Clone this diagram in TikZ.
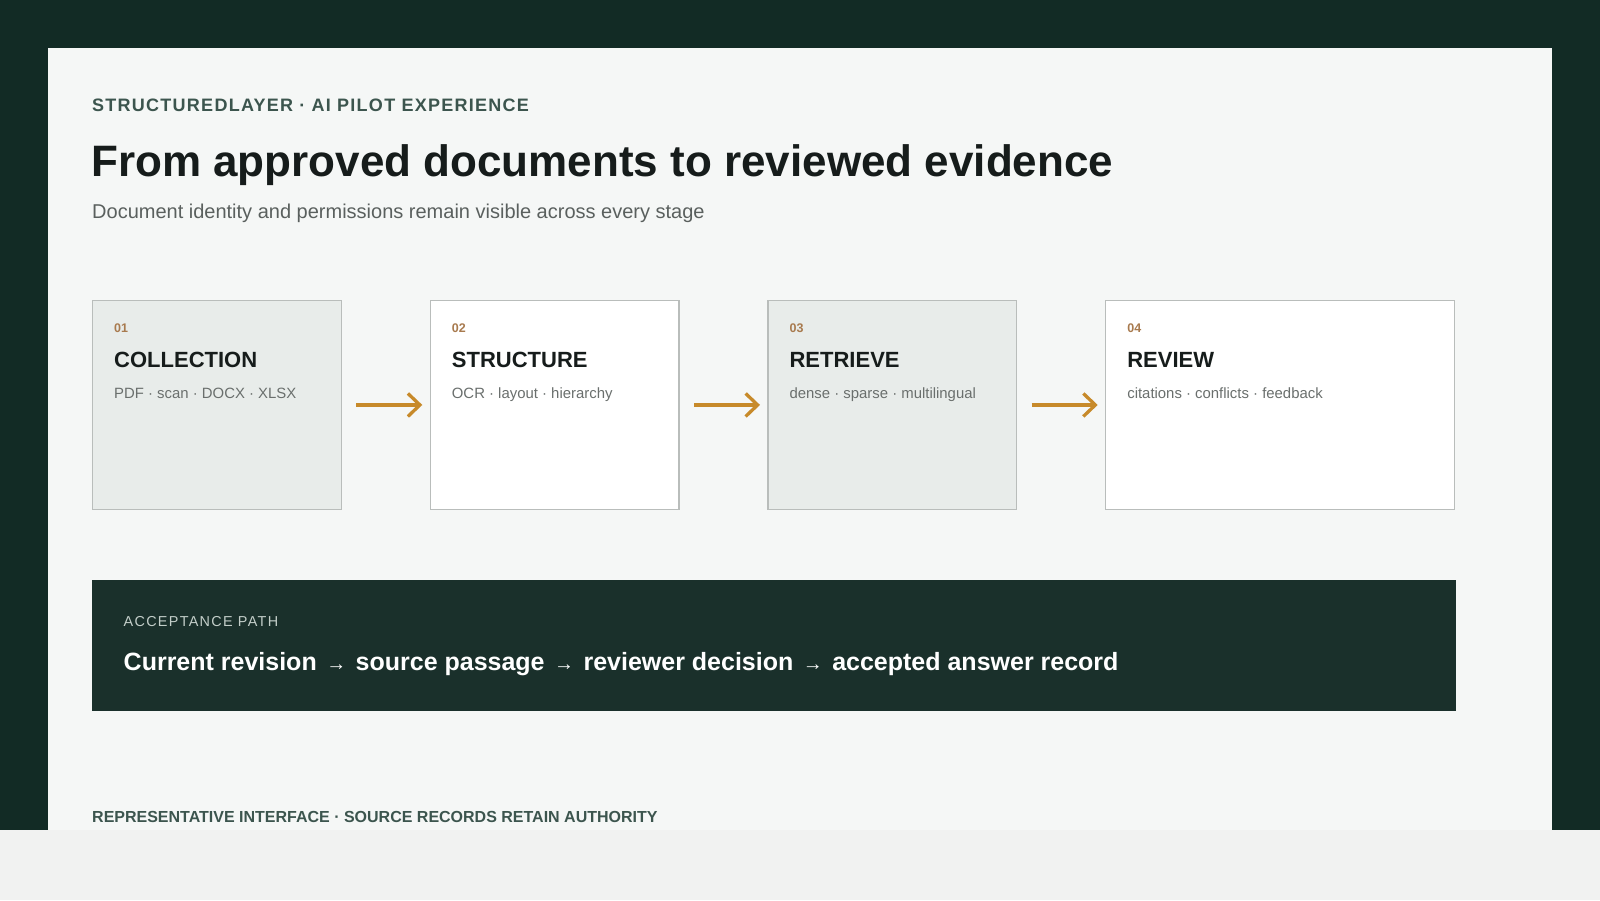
\documentclass[tikz,border=0pt]{standalone}
\usepackage{fontspec}
\setmainfont{Liberation Sans}
\usetikzlibrary{arrows.meta,positioning}
\definecolor{outerbg}{HTML}{122B25}
\definecolor{panelbg}{HTML}{F5F7F6}
\definecolor{bandbg}{HTML}{F1F2F1}
\definecolor{barbg}{HTML}{1A302B}
\definecolor{kicker}{HTML}{3C554E}
\definecolor{ink}{HTML}{161C1B}
\definecolor{muted}{HTML}{5A605E}
\definecolor{stagegray}{HTML}{E8ECEA}
\definecolor{stageline}{HTML}{B9BDBB}
\definecolor{numcol}{HTML}{A87A4E}
\definecolor{detail}{HTML}{6A6F6D}
\definecolor{flowcol}{HTML}{C78A2A}
\definecolor{pathlabel}{HTML}{C3CEC9}
\newcommand\pathto{{\mdseries\fontsize{20}{20}\selectfont\hspace{2.5pt}→\hspace{2.5pt}}}
\tikzset{
    %Define standard arrow tip
    >={Straight Barb[length=12pt,width=23pt]},
    %Define style for stage boxes
    stage/.style={
           rectangle,
           draw=stageline, line width=1.3pt,
           fill=white,
           minimum width=248.7pt,
           minimum height=208.7pt,
           inner sep=0pt, outer sep=0pt},
    num/.style={
          anchor=base west, inner sep=0pt, text=numcol,
          font=\bfseries\fontsize{12.5}{14}\selectfont
    },
    stagetitle/.style={
          anchor=base west, inner sep=0pt, text=ink,
          font=\bfseries\fontsize{22}{26}\selectfont
    },
    detailtext/.style={
          anchor=base west, inner sep=0pt, text=detail,
          font=\fontsize{14.9}{17}\selectfont
    },
    % Define arrow style
    flow/.style={
           ->,
           draw=flowcol,
           line width=3.3pt},
    pathbar/.style={
           rectangle, fill=barbg,
           minimum width=1364pt, minimum height=131pt,
           inner sep=0pt, anchor=north west},
}
\begin{document}
\begin{tikzpicture}[x=1pt,y=-1pt]
\useasboundingbox (0,0) rectangle (1600,900);
\fill[outerbg] (0,0) rectangle (1600,900);
\fill[panelbg] (48,48) rectangle (1552,830);
\fill[bandbg] (0,830) rectangle (1600,900);

% header
\node[anchor=base west, inner sep=0pt, text=kicker, font=\bfseries\fontsize{18}{22}\selectfont\addfontfeature{LetterSpace=7}]
     (kicker) at (92,111.7) {STRUCTUREDLAYER · AI PILOT EXPERIENCE};
\node[anchor=base west, inner sep=0pt, text=ink, font=\bfseries\fontsize{44}{52}\selectfont]
     (title) at (91,176.7) {From approved documents to reviewed evidence};
\node[anchor=base west, inner sep=0pt, text=muted, font=\fontsize{20}{24}\selectfont]
     (subtitle) at (92,218.3) {Document identity and permissions remain visible across every stage};

% stages
\node[stage, fill=stagegray, anchor=north west] (collection) at (92.6,300.6) {};
\node[stage, right=89pt of collection]                     (structure) {};
\node[stage, fill=stagegray, right=89pt of structure]      (retrieve) {};
\node[stage, minimum width=348.7pt, right=89pt of retrieve] (review) {};

\node[num]        at ([shift={(21.4,31.4)}]collection.north west) {01};
\node[stagetitle] at ([shift={(21.4,66.9)}]collection.north west) {COLLECTION};
\node[detailtext] at ([shift={(21.4,97.4)}]collection.north west) {PDF · scan · DOCX · XLSX};

\node[num]        at ([shift={(21.4,31.4)}]structure.north west) {02};
\node[stagetitle] at ([shift={(21.4,66.9)}]structure.north west) {STRUCTURE};
\node[detailtext] at ([shift={(21.4,97.4)}]structure.north west) {OCR · layout · hierarchy};

\node[num]        at ([shift={(21.4,31.4)}]retrieve.north west) {03};
\node[stagetitle] at ([shift={(21.4,66.9)}]retrieve.north west) {RETRIEVE};
\node[detailtext] at ([shift={(21.4,97.4)}]retrieve.north west) {dense · sparse · multilingual};

\node[num]        at ([shift={(21.4,31.4)}]review.north west) {04};
\node[stagetitle] at ([shift={(21.4,66.9)}]review.north west) {REVIEW};
\node[detailtext] at ([shift={(21.4,97.4)}]review.north west) {citations · conflicts · feedback};

\draw[flow] ([xshift=15pt]collection.east) -- ([xshift=-8pt]structure.west);
\draw[flow] ([xshift=15pt]structure.east)  -- ([xshift=-8pt]retrieve.west);
\draw[flow] ([xshift=15pt]retrieve.east)   -- ([xshift=-8pt]review.west);

% acceptance path
\node[pathbar] (path) at (92,580) {};
\node[anchor=base west, inner sep=0pt, text=pathlabel, font=\fontsize{14.4}{17}\selectfont\addfontfeature{LetterSpace=9}]
     (pathtitle) at ([shift={(31.5,46)}]path.north west) {ACCEPTANCE PATH};
\node[anchor=base west, inner sep=0pt, text=white, font=\bfseries\fontsize{25}{30}\selectfont]
     (pathsteps) at ([shift={(31.5,90.7)}]path.north west)
     {Current revision \pathto{} source passage \pathto{} reviewer decision \pathto{} accepted answer record};

% footer
\node[anchor=base west, inner sep=0pt, text=kicker, font=\bfseries\fontsize{16}{19}\selectfont]
     (footer) at (92,822.3) {REPRESENTATIVE INTERFACE · SOURCE RECORDS RETAIN AUTHORITY};
\end{tikzpicture}
\end{document}
